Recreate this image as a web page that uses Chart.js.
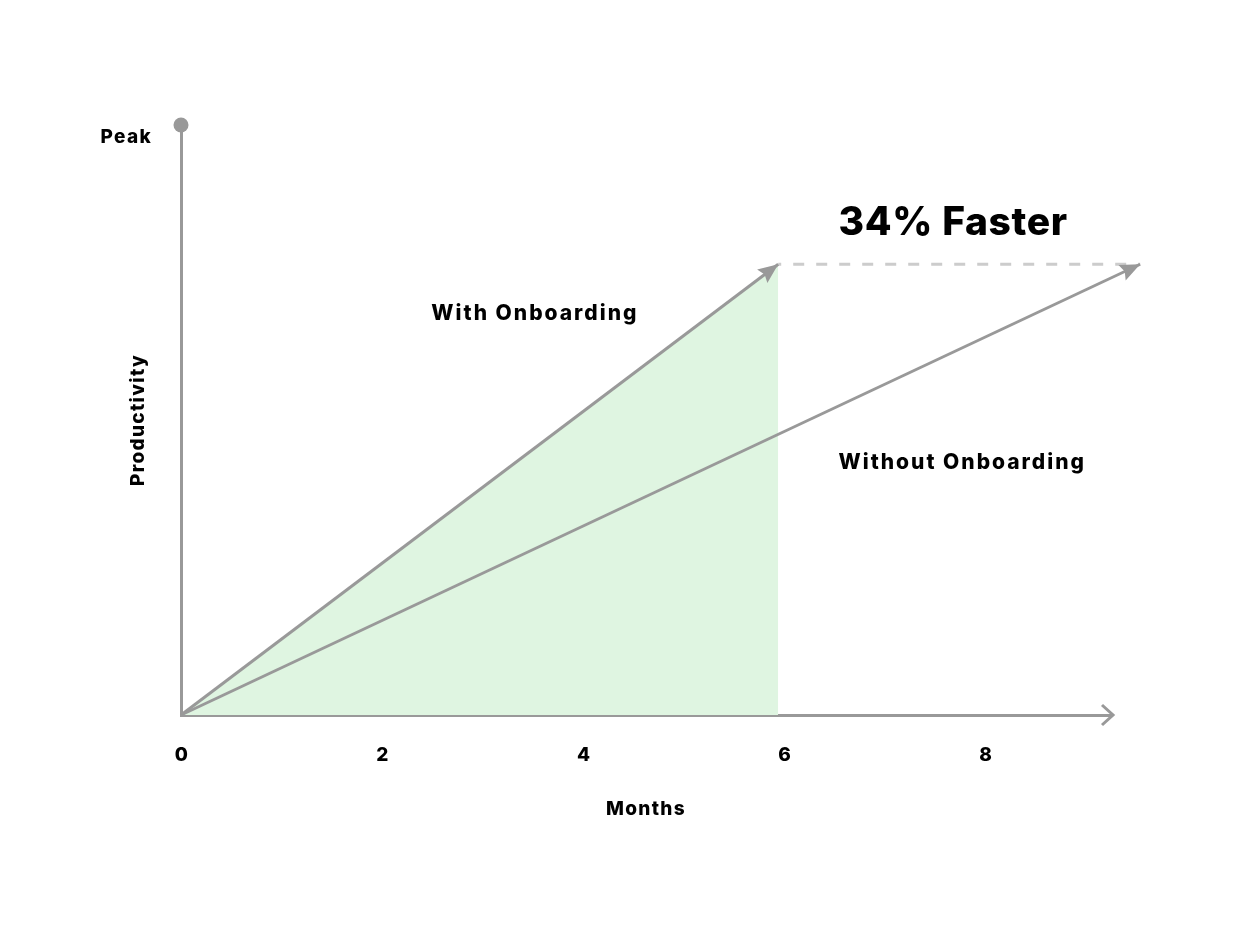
<!DOCTYPE html>
<html>
<head>
<meta charset="utf-8">
<title>Time to Peak Productivity</title>
<script src="https://cdn.jsdelivr.net/npm/chart.js@4/dist/chart.umd.min.js"></script>
<style>
  html, body { margin: 0; padding: 0; background: #ffffff; }
  #wrap { width: 1239px; height: 938px; }
</style>
</head>
<body>
<div id="wrap"><canvas id="chart" width="1239" height="938"></canvas></div>
<script>
// Months shown on the x axis
const monthTicks = [0, 2, 4, 6, 8];
// Label for the top of the productivity axis
const yTickLabels = ['Peak'];
const peakValue = [100];

// Ramp-up to productivity (months, productivity)
const withMonths = [0, 5.94];
const withValues = [0, 76.4];
const withoutMonths = [0, 9.54];
const withoutValues = [0, 76.4];

// Gap between the two ramps at the same productivity level
const gapMonths = [5.94, 9.54];
const gapValues = [76.4, 76.4];

// Text notes placed on the chart (in data units)
const noteTexts = ['With Onboarding', 'Without Onboarding', '34% Faster'];
const noteMonths = [3.52, 7.77, 7.68];
const noteValues = [68.1, 42.7, 83.4];

const FONT = 'Inter, "Open Sans", "DejaVu Sans", sans-serif';
const GREY = '#999999';
const toPoints = (xs, ys) => xs.map((x, i) => ({ x, y: ys[i] }));

// Slightly wider letter spacing for the axis texts
const spacing = {
  id: 'spacing',
  beforeDraw(chart) { chart.ctx.letterSpacing = '1.3px'; },
  afterDraw(chart) { chart.ctx.letterSpacing = '0px'; }
};

// Filled arrowheads at the end of the ramp lines
const arrowHeads = {
  id: 'arrowHeads',
  afterDatasetsDraw(chart) {
    const ctx = chart.ctx;
    chart.data.datasets.forEach((ds, i) => {
      if (!ds.arrowHead) return;
      const pts = chart.getDatasetMeta(i).data;
      const a = pts[pts.length - 2], b = pts[pts.length - 1];
      const ang = Math.atan2(b.y - a.y, b.x - a.x);
      const len = 20, half = 8.5;
      ctx.save();
      ctx.translate(b.x, b.y);
      ctx.rotate(ang);
      ctx.beginPath();
      ctx.moveTo(0, 0);
      ctx.lineTo(-len, -half);
      ctx.lineTo(-len * 0.85, 0);
      ctx.lineTo(-len, half);
      ctx.closePath();
      ctx.fillStyle = GREY;
      ctx.fill();
      ctx.restore();
    });
  }
};

// Open chevron at the end of the month axis
const axisChevron = {
  id: 'axisChevron',
  afterDraw(chart) {
    const { ctx, scales: { x, y } } = chart;
    const tipX = x.right + 2, tipY = y.getPixelForValue(0);
    ctx.save();
    ctx.strokeStyle = GREY;
    ctx.lineWidth = 3;
    ctx.lineCap = 'butt';
    ctx.lineJoin = 'miter';
    ctx.beginPath();
    ctx.moveTo(tipX - 11, tipY - 10);
    ctx.lineTo(tipX, tipY);
    ctx.lineTo(tipX - 11, tipY + 10);
    ctx.stroke();
    ctx.restore();
  }
};

// Text notes
const notes = {
  id: 'notes',
  afterDraw(chart) {
    const { ctx, scales: { x, y } } = chart;
    ctx.save();
    ctx.fillStyle = '#000000';
    ctx.textAlign = 'center';
    ctx.textBaseline = 'middle';
    noteTexts.forEach((t, i) => {
      const big = i === 2;
      ctx.font = (big ? '800 39px ' : '800 21px ') + FONT;
      ctx.letterSpacing = big ? '0.6px' : '2px';
      ctx.fillText(t, x.getPixelForValue(noteMonths[i]), y.getPixelForValue(noteValues[i]));
    });
    ctx.restore();
  }
};

const axisFont = { family: FONT, size: 19, weight: '800' };

new Chart(document.getElementById('chart'), {
  type: 'line',
  data: {
    datasets: [
      {
        label: 'With Onboarding',
        data: toPoints(withMonths, withValues),
        borderColor: GREY,
        borderWidth: 3,
        pointRadius: 0,
        fill: 'origin',
        backgroundColor: 'rgb(223, 245, 225)',
        arrowHead: true,
        clip: false,
        order: 2
      },
      {
        label: 'Without Onboarding',
        data: toPoints(withoutMonths, withoutValues),
        borderColor: GREY,
        borderWidth: 3,
        pointRadius: 0,
        fill: false,
        arrowHead: true,
        clip: false,
        order: 1
      },
      {
        label: 'Gap',
        data: toPoints(gapMonths, gapValues),
        borderColor: '#cccccc',
        borderWidth: 3,
        borderDash: [11, 12],
        borderDashOffset: 8,
        pointRadius: 0,
        fill: false,
        clip: false,
        order: 3
      },
      {
        label: 'Peak',
        data: toPoints([0], peakValue),
        showLine: false,
        pointRadius: 7.5,
        pointHoverRadius: 7.5,
        pointBackgroundColor: GREY,
        pointBorderWidth: 0,
        clip: false,
        order: 0
      }
    ]
  },
  options: {
    responsive: false,
    animation: false,
    events: [],
    layout: { padding: { top: 125, right: 128, bottom: 0, left: 0 } },
    plugins: {
      legend: { display: false },
      tooltip: { enabled: false }
    },
    scales: {
      x: {
        type: 'linear',
        min: 0,
        max: 9.25,
        grid: { display: false },
        border: { color: GREY, width: 3 },
        afterBuildTicks(scale) { scale.ticks = monthTicks.map(v => ({ value: v })); },
        afterFit(scale) { scale.height = 223; },
        ticks: {
          padding: 21,
          labelOffset: 1,
          color: '#000000',
          font: axisFont,
          maxRotation: 0,
          autoSkip: false
        },
        title: {
          display: true,
          text: 'Months',
          color: '#000000',
          font: axisFont,
          padding: { top: 0, bottom: 117.6 }
        }
      },
      y: {
        type: 'linear',
        min: 0,
        max: 100,
        grid: { display: false },
        border: { color: GREY, width: 3 },
        afterBuildTicks(scale) { scale.ticks = peakValue.map(v => ({ value: v })); },
        afterFit(scale) { scale.width = 181; },
        ticks: {
          padding: 21,
          labelOffset: 12,
          color: '#000000',
          font: axisFont,
          callback: (v, i) => yTickLabels[i]
        },
        title: {
          display: true,
          text: 'Productivity',
          color: '#000000',
          font: axisFont,
          padding: { top: 126.6, bottom: 0 }
        }
      }
    }
  },
  plugins: [spacing, arrowHeads, axisChevron, notes]
});
</script>
</body>
</html>
